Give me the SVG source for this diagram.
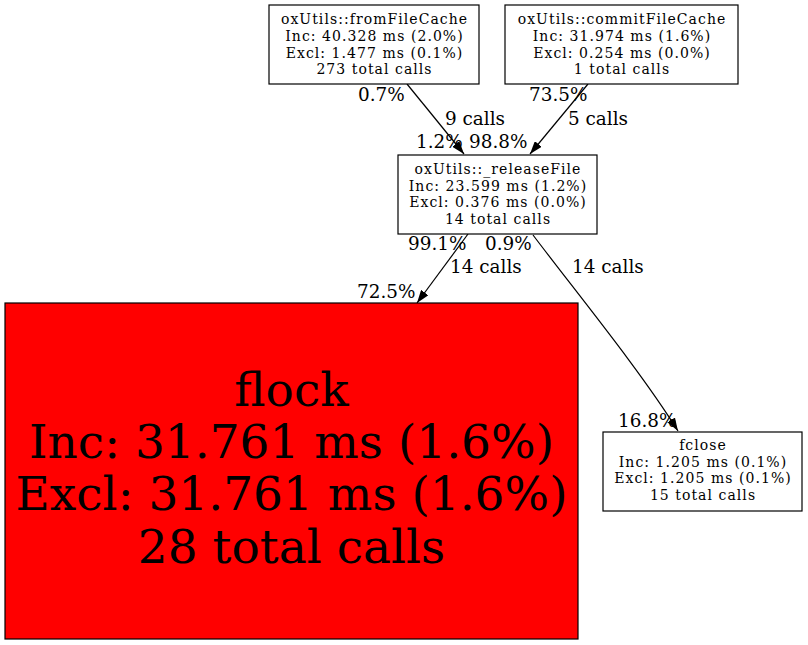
<svg xmlns="http://www.w3.org/2000/svg" width="808" height="645" viewBox="0 0 808 645">
<style>
.box{fill:#ffffff;stroke:#000000;stroke-width:1.2}
.hot{fill:#ff0000;stroke:#000000;stroke-width:1.2}
.nt{font-family:"DejaVu Serif",serif;font-size:14px;letter-spacing:1.05px;fill:#000;text-anchor:middle}
.big{font-family:"DejaVu Serif",serif;font-size:47px;fill:#000;text-anchor:middle}
.el{font-family:"DejaVu Serif",serif;font-size:18.4px;fill:#000}
.edge{fill:none;stroke:#000;stroke-width:1.2}
</style>
<defs>
<marker id="arr" markerUnits="userSpaceOnUse" viewBox="0 0 13 9" refX="13" refY="4.5" markerWidth="13" markerHeight="9" orient="auto">
<path d="M0,0 L13,4.5 L0,9 z" fill="#000" stroke="none"/>
</marker>
</defs>
<rect width="808" height="645" fill="#ffffff"/>
<g id="connectors">
<path class="edge" d="M407,84 L464,154" marker-end="url(#arr)"/>
<path class="edge" d="M588,84 L530,154" marker-end="url(#arr)"/>
<path class="edge" d="M468,234 L417,303" marker-end="url(#arr)"/>
<path class="edge" d="M533,235 C576,292 640,370 678,431" marker-end="url(#arr)"/>
<text class="el" x="358" y="101">0.7%</text>
<text class="el" x="445" y="125">9 calls</text>
<text class="el" x="416" y="148">1.2%</text>
<text class="el" x="469" y="148">98.8%</text>
<text class="el" x="529" y="101">73.5%</text>
<text class="el" x="568" y="125">5 calls</text>
<text class="el" x="408" y="250">99.1%</text>
<text class="el" x="485" y="250">0.9%</text>
<text class="el" x="450" y="273">14 calls</text>
<text class="el" x="572" y="273">14 calls</text>
<text class="el" x="357" y="298">72.5%</text>
<text class="el" x="618" y="427">16.8%</text>
</g>
<g id="fromFileCache">
<rect class="box" x="269" y="5" width="210" height="79"/>
<text class="nt" x="374.5" y="24">oxUtils::fromFileCache</text>
<text class="nt" x="374.5" y="41">Inc: 40.328 ms (2.0%)</text>
<text class="nt" x="374.5" y="57.5">Excl: 1.477 ms (0.1%)</text>
<text class="nt" x="374.5" y="74">273 total calls</text>
</g>
<g id="commitFileCache">
<rect class="box" x="505" y="5" width="233" height="79"/>
<text class="nt" x="622" y="24">oxUtils::commitFileCache</text>
<text class="nt" x="622" y="41">Inc: 31.974 ms (1.6%)</text>
<text class="nt" x="622" y="57.5">Excl: 0.254 ms (0.0%)</text>
<text class="nt" x="622" y="74">1 total calls</text>
</g>
<g id="releaseFile">
<rect class="box" x="398" y="155" width="199" height="79"/>
<text class="nt" x="498" y="173.5">oxUtils::_releaseFile</text>
<text class="nt" x="498" y="190.5">Inc: 23.599 ms (1.2%)</text>
<text class="nt" x="498" y="207">Excl: 0.376 ms (0.0%)</text>
<text class="nt" x="498" y="224">14 total calls</text>
</g>
<g id="flock">
<rect class="hot" x="5" y="303" width="573" height="336"/>
<text class="big" x="291.5" y="406">flock</text>
<text class="big" x="291.5" y="458">Inc: 31.761 ms (1.6%)</text>
<text class="big" x="291.5" y="510">Excl: 31.761 ms (1.6%)</text>
<text class="big" x="291.5" y="563">28 total calls</text>
</g>
<g id="fclose">
<rect class="box" x="603" y="432" width="199" height="79"/>
<text class="nt" x="703" y="450">fclose</text>
<text class="nt" x="703" y="466.5">Inc: 1.205 ms (0.1%)</text>
<text class="nt" x="703" y="483">Excl: 1.205 ms (0.1%)</text>
<text class="nt" x="703" y="500">15 total calls</text>
</g>
</svg>
